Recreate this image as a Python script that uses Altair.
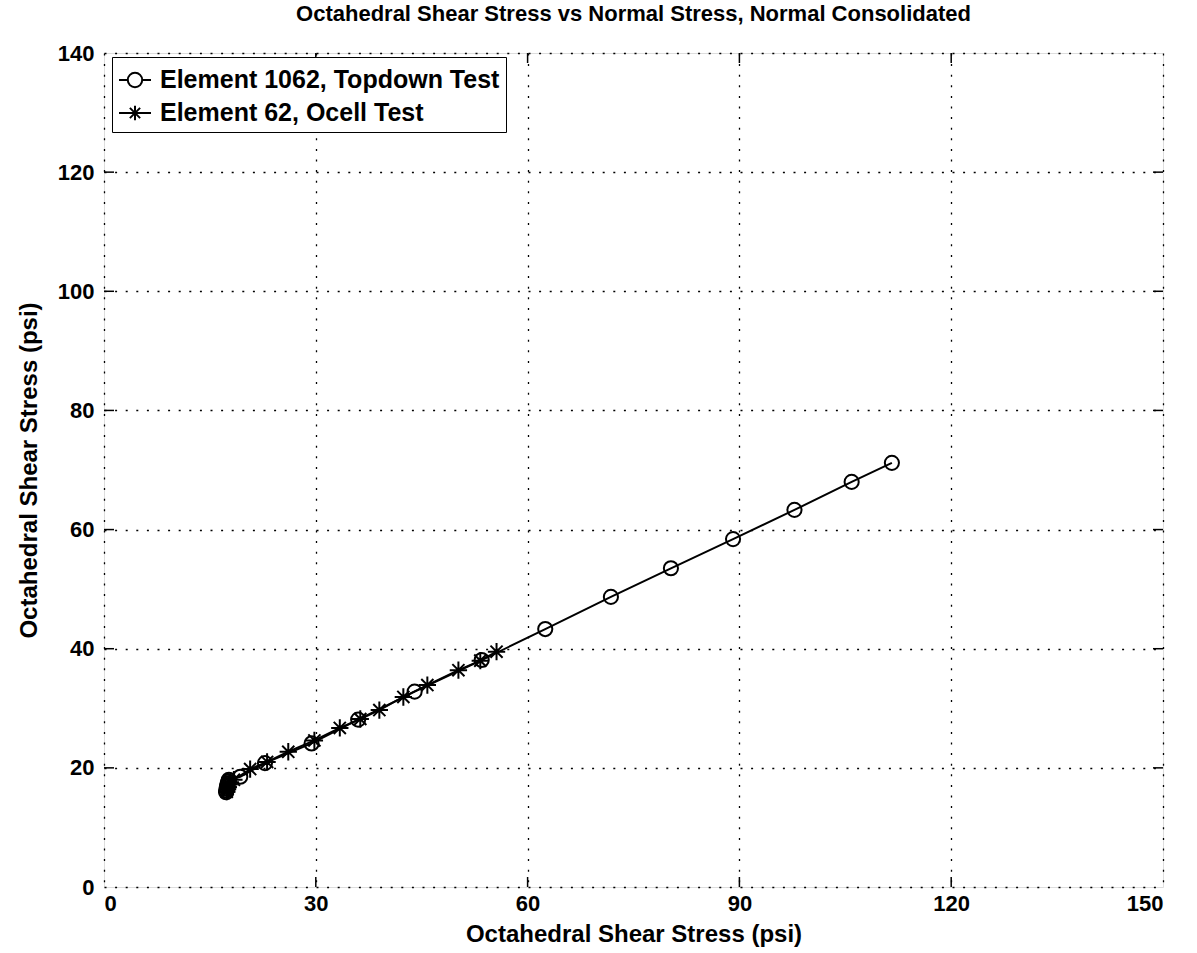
import altair as alt
import pandas as pd

# Element 1062, Topdown Test (normal stress vs octahedral shear stress, psi)
topdown_x = [17.3, 17.3, 17.4, 17.4, 17.5, 17.5, 17.6, 17.7, 19.3, 22.8,
             29.4, 36.0, 44.0, 53.5, 62.5, 71.8, 80.3, 89.1, 97.8, 105.9,
             111.6]
topdown_y = [15.9, 16.2, 16.5, 16.8, 17.1, 17.4, 17.7, 18.0, 18.5, 20.8,
             24.1, 28.1, 32.8, 38.1, 43.3, 48.7, 53.5, 58.4, 63.3, 68.0,
             71.2]

# Element 62, Ocell Test
ocell_x = [17.4, 17.5, 17.6, 17.7, 17.9, 18.4, 20.7, 23.1, 26.1, 29.8,
           33.4, 36.3, 39.0, 42.4, 45.8, 50.2, 53.3, 55.6]
ocell_y = [16.0, 16.4, 16.8, 17.2, 17.6, 18.0, 19.8, 21.0, 22.7, 24.6,
           26.7, 28.2, 29.7, 31.9, 33.9, 36.4, 38.0, 39.5]

series_names = ["Element 1062, Topdown Test", "Element 62, Ocell Test"]
x_ticks = [0, 30, 60, 90, 120, 150]
y_ticks = [0, 20, 40, 60, 80, 100, 120, 140]

W, H = 1059, 834
FONT = "Liberation Sans"

rows = []
for i, (x, y) in enumerate(zip(topdown_x, topdown_y)):
    rows.append({"series": series_names[0], "order": i, "x": x, "y": y})
for i, (x, y) in enumerate(zip(ocell_x, ocell_y)):
    rows.append({"series": series_names[1], "order": i, "x": x, "y": y})
df = pd.DataFrame(rows)

# marker shapes: open circle and an asterisk (plus + cross)
ASTERISK = "M0,-1L0,1M-1,0L1,0M-0.7,-0.7L0.7,0.7M-0.7,0.7L0.7,-0.7"
CIRCLE = "circle"
# legend glyphs: a line segment through the marker
LEG_CIRCLE = ("M-1,0L-0.45,0M0.45,0L1,0"
              "M0.45,0A0.45,0.45 0 1,1 -0.45,0A0.45,0.45 0 1,1 0.45,0")
LEG_ASTERISK = ("M-1,0L1,0M0,-0.45L0,0.45M-0.32,-0.32L0.32,0.32"
                "M-0.32,0.32L0.32,-0.32")

xs = alt.Scale(domain=[0, 150], nice=False, zero=False)
ys = alt.Scale(domain=[0, 140], nice=False, zero=False)

axis_common = dict(
    grid=True, gridColor="black", gridDash=[2, 8.6], gridWidth=1.3,
    gridOpacity=1, domain=False, ticks=False,
    labelFont=FONT, labelFontSize=22, labelFontWeight="bold",
    labelColor="black", titleFont=FONT, titleFontSize=24,
    titleFontWeight="bold", titleColor="black",
)

x_enc = alt.X("x:Q", scale=xs, title="Octahedral Shear Stress (psi)",
              axis=alt.Axis(values=x_ticks, labelPadding=6, titlePadding=8,
                            **axis_common))
y_enc = alt.Y("y:Q", scale=ys, title="Octahedral Shear Stress (psi)",
              axis=alt.Axis(values=y_ticks, labelPadding=10, titlePadding=16,
                            **axis_common))

base = alt.Chart(df)

lines = base.mark_line(color="black", strokeWidth=2).encode(
    x=x_enc, y=y_enc, detail="series:N", order="order:Q"
)

points = base.mark_point(filled=False, color="black", strokeWidth=2,
                         opacity=1).encode(
    x=alt.X("x:Q", scale=xs),
    y=alt.Y("y:Q", scale=ys),
    shape=alt.Shape("series:N", scale=alt.Scale(domain=series_names,
                                                range=[CIRCLE, ASTERISK]),
                    legend=None),
    size=alt.Size("series:N", scale=alt.Scale(domain=series_names,
                                              range=[200, 300]),
                  legend=None),
)

# invisible layer that only carries the legend
legend_layer = base.mark_point(filled=False, color="black", opacity=0).encode(
    x=alt.X("x:Q", scale=xs),
    y=alt.Y("y:Q", scale=ys),
    shape=alt.Shape(
        "series:N",
        scale=alt.Scale(domain=series_names, range=[LEG_CIRCLE, LEG_ASTERISK]),
        legend=alt.Legend(
            title=None, orient="none", legendX=8, legendY=4,
            symbolSize=1024, symbolStrokeWidth=2, symbolStrokeColor="black",
            symbolFillColor="transparent", symbolOpacity=1,
            labelFont=FONT, labelFontSize=25, labelFontWeight="bold",
            labelColor="black", labelOffset=8, rowPadding=3,
            strokeColor="black", fillColor="white", padding=6,
            labelLimit=500,
        ),
    ),
)

tick_df_x = pd.DataFrame({"x": x_ticks[1:-1]})
tick_df_y = pd.DataFrame({"y": y_ticks[1:-1]})
TL = 10
ticks_bottom = alt.Chart(tick_df_x).mark_rule(color="black", strokeWidth=1.5).encode(
    x=alt.X("x:Q", scale=xs), y=alt.value(H), y2=alt.value(H - TL))
ticks_top = alt.Chart(tick_df_x).mark_rule(color="black", strokeWidth=1.5).encode(
    x=alt.X("x:Q", scale=xs), y=alt.value(0), y2=alt.value(TL))
ticks_left = alt.Chart(tick_df_y).mark_rule(color="black", strokeWidth=1.5).encode(
    y=alt.Y("y:Q", scale=ys), x=alt.value(0), x2=alt.value(TL))
ticks_right = alt.Chart(tick_df_y).mark_rule(color="black", strokeWidth=1.5).encode(
    y=alt.Y("y:Q", scale=ys), x=alt.value(W), x2=alt.value(W - TL))

chart = alt.layer(
    lines, points, legend_layer,
    ticks_bottom, ticks_top, ticks_left, ticks_right,
).resolve_scale(shape="independent", size="independent").properties(
    width=W, height=H,
    title=alt.TitleParams(
        "Octahedral Shear Stress vs Normal Stress, Normal Consolidated",
        font=FONT, fontSize=22, fontWeight="bold", color="black",
        anchor="middle", offset=16,
    ),
    autosize=alt.AutoSizeParams(type="none"),
    padding={"left": 104, "top": 53, "right": 34, "bottom": 66},
).configure_view(
    stroke="black", strokeWidth=2
).configure(background="white")

chart.save("out.html", embed_options={"renderer": "svg", "actions": False})
